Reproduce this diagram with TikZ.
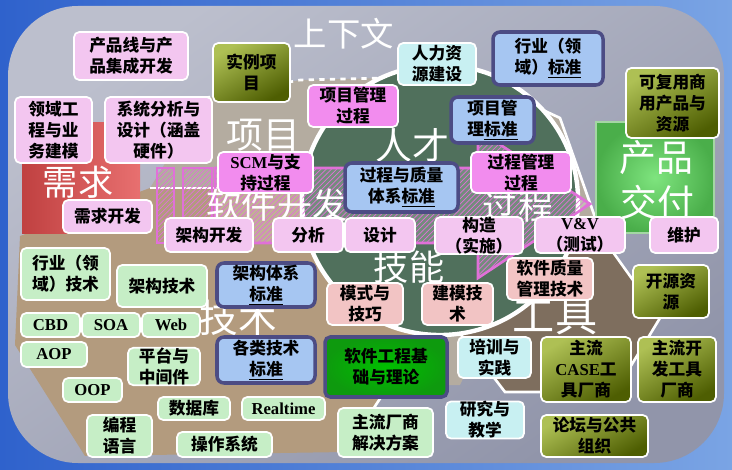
\documentclass[tikz,border=0pt]{standalone}
\usepackage{fontspec}
\setmainfont{Liberation Serif}
\newfontfamily\cjk{Noto Sans CJK SC}
\newfontfamily\lat{Liberation Serif}
\usetikzlibrary{patterns}

\definecolor{framebl}{HTML}{2F62CC}
\definecolor{framelt}{HTML}{7AA4E4}
\definecolor{panel}{HTML}{9195AA}
\definecolor{panellt}{HTML}{BCBFCD}
\definecolor{granite}{HTML}{B4ACA0}
\definecolor{paper}{HTML}{B39B7E}
\definecolor{tooldk}{HTML}{7E6E5E}
\definecolor{marble}{HTML}{50705C}
\definecolor{reqred}{HTML}{E24C4C}
\definecolor{prodgr}{HTML}{4AAE4A}
\definecolor{pinklt}{HTML}{F3C6F0}
\definecolor{pinkdk}{HTML}{F28CEE}
\definecolor{stdblue}{HTML}{A6C6F2}
\definecolor{stdedge}{HTML}{4C4C84}
\definecolor{greenlt}{HTML}{C6EEC6}
\definecolor{cyanlt}{HTML}{C8F0F2}
\definecolor{salmon}{HTML}{F2C4C4}
\definecolor{oliveD}{HTML}{4E5E02}
\definecolor{oliveL}{HTML}{AEC054}
\definecolor{basegr}{HTML}{0E9A0E}
\definecolor{arrowpk}{HTML}{E070D8}

\tikzset{
  box/.style={rounded corners=3pt, draw=white, line width=1pt, align=center,
    inner sep=0pt, text=black, font=\cjk\bfseries\fontsize{9.5}{12}\selectfont},
  sz/.style 2 args={minimum width=#1*0.02cm, minimum height=#2*0.02cm},
  pinkbox/.style={box, fill=pinklt},
  magbox/.style={box, fill=pinkdk},
  stdbox/.style={box, fill=stdblue, draw=stdedge, line width=2pt, rounded corners=4pt},
  techbox/.style={box, fill=greenlt},
  cyanbox/.style={box, fill=cyanlt},
  skillbox/.style={box, fill=salmon},
  olivebox/.style={box, top color=oliveL, bottom color=oliveD, shading angle=30},
  basebox/.style={box, inner color=green!75!black, outer color=basegr, draw=stdedge, line width=2pt},
  bigword/.style={text=white, inner sep=0pt, font=\cjk\fontsize{#1}{#1}\selectfont},
  edge/.style={white, line width=1.5pt},
}

\begin{document}
\begin{tikzpicture}[x=0.02cm, y=-0.02cm]
  \useasboundingbox (0,0) rectangle (732,469);

  % frame and panel
  \shade[left color=framebl, right color=framelt] (0,0) rectangle (732,469);
  \shade[top color=panellt, bottom color=panel, shading angle=35, rounded corners=1.4cm]
    (8,6) rectangle (724,463);

  % regions behind
  \fill[granite] (150,188) -- (205,98) -- (300,80) -- (470,76) -- (560,118)
    -- (603,240) -- (500,300) -- (460,385) -- (400,385) -- (340,300) -- cycle;
  \draw[edge, dashed] (205,98) -- (300,80) -- (470,76);
  \draw[edge] (470,76) -- (560,118) -- (603,240);
  \fill[paper] (20,236) -- (150,188) -- (300,188) -- (425,330) -- (345,452)
    -- (85,456) -- (15,345) -- cycle;
  \draw[edge] (150,188) -- (300,188);
  \draw[edge] (425,330) -- (345,452);
  \fill[tooldk] (475,262) -- (610,248) -- (660,318) -- (615,392) -- (505,392)
    -- (455,327) -- cycle;
  \draw[edge] (610,248) -- (660,318) -- (615,392) -- (505,392) -- (455,327);
  \fill[marble] (440,200) ellipse [x radius=138, y radius=135];
  \draw[white, line width=2.5pt] (440,200) ellipse [x radius=138, y radius=135];

  % requirement and delivery blocks
  \shade[left color=reqred!85!black, right color=reqred!80!white] (22,123) rectangle (140,233);
  \shade[inner color=green!45!prodgr!60!white, outer color=prodgr] (596,122) rectangle (714,233);
  \draw[prodgr!50!white, line width=1pt] (596,122) rectangle (714,233);

  % process arrow
  \fill[white, opacity=0.2] (215,168) -- (478,168) -- (478,130) -- (590,204) -- (478,278)
    -- (478,243) -- (215,243) -- cycle;
  \fill[pattern=north east lines, pattern color=arrowpk] (215,168) -- (478,168) -- (478,130)
    -- (590,204) -- (478,278) -- (478,243) -- (215,243) -- cycle;
  \draw[arrowpk, line width=1.5pt] (215,168) -- (478,168) -- (478,130) -- (590,204)
    -- (478,278) -- (478,243) -- (215,243) -- cycle;
  \draw[arrowpk, line width=1.5pt, pattern=north east lines, pattern color=arrowpk]
    (157,168) rectangle (174,243);
  \draw[arrowpk, line width=1.5pt, pattern=north east lines, pattern color=arrowpk]
    (183,168) rectangle (212,243);

  % large labels
  \node[bigword=19] (ctx) at (344,34) {上下文};
  \node[bigword=21] (proj) at (263,135) {项目};
  \node[bigword=21] (talent) at (412,145) {人才};
  \node[bigword=20] (skill) at (409,267) {技能};
  \node[bigword=22] (tech) at (238,318) {技术};
  \node[bigword=24] (tool) at (555,317) {工具};
  \node[bigword=20] (req) at (78,182) {需求};
  \node[bigword=21] (prod) at (656,158) {产品};
  \node[bigword=21] (deliv) at (657,202) {交付};
  \node[bigword=20] (swdev) at (277,205) {软件开发};
  \node[bigword=20] (proc) at (518,206) {过程};

  % top
  \node[pinkbox, sz={114}{48}] (pline) at (131,56) {产品线与产\\品集成开发};
  \node[olivebox, sz={77}{59}] (sample) at (251.5,72.5) {实例项\\目};
  \node[pinkbox, sz={77}{66}] (domeng) at (53.5,130) {领域工\\程与业\\务建模};
  \node[pinkbox, sz={107}{66}] (sysana) at (158.5,130) {系统分析与\\设计（涵盖\\硬件）};
  \node[pinkbox, sz={89}{33}] (reqdev) at (107.5,216.5) {需求开发};
  \node[magbox, sz={95}{41}] (scm) at (265.5,172.5) {{\lat SCM}与支\\持过程};
  \node[magbox, sz={90}{42}] (pmproc) at (353,106) {项目管理\\过程};
  \node[cyanbox, sz={78}{42}] (hr) at (437,64) {人力资\\源建设};
  \node[stdbox, sz={110}{53}] (domstd) at (548,58.5) {行业（领\\域）\underline{标准}};
  \node[olivebox, sz={93}{70}] (reuse) at (672.5,103) {可复用商\\用产品与\\资源};
  \node[stdbox, sz={83}{46}] (pmstd) at (492.5,120) {项目管\\理\underline{标准}};
  \node[magbox, sz={100}{41}] (procmg) at (521,172.5) {过程管理\\过程};
  \node[stdbox, sz={113}{49}] (qstd) at (401.5,187.5) {过程与质量\\体系\underline{标准}};

  % process row
  \node[pinkbox, sz={88}{34}] (archdev) at (209,235) {架构开发};
  \node[pinkbox, sz={70}{34}] (anal) at (308,235) {分析};
  \node[pinkbox, sz={70}{34}] (design) at (380,235) {设计};
  \node[pinkbox, sz={88}{35}] (build) at (479,235.5) {构造\\（实施）};
  \node[pinkbox, sz={90}{36}] (vv) at (580,235) {{\lat V\&V}\\（测试）};
  \node[pinkbox, sz={68}{36}] (maint) at (684,235) {维护};

  % technology
  \node[techbox, sz={89}{52}] (domtech) at (65.5,274) {行业（领\\域）技术};
  \node[techbox, sz={90}{42}] (archtech) at (162,286) {架构技术};
  \node[stdbox, sz={98}{44}] (archstd) at (266,285) {架构体系\\\underline{标准}};
  \node[techbox, sz={59}{24}] (cbd) at (50.5,325) {\lat CBD};
  \node[techbox, sz={58}{24}] (soa) at (111,325) {\lat SOA};
  \node[techbox, sz={58}{24}] (web) at (171,325) {\lat Web};
  \node[techbox, sz={66}{25}] (aop) at (54,354.5) {\lat AOP};
  \node[techbox, sz={72}{37}] (platform) at (164,366.5) {平台与\\中间件};
  \node[stdbox, sz={98}{46}] (techstd) at (266,360) {各类技术\\\underline{标准}};
  \node[techbox, sz={59}{24}] (oop) at (92.5,390) {\lat OOP};
  \node[techbox, sz={72}{23}] (db) at (194,408.5) {数据库};
  \node[techbox, sz={83}{23}] (rt) at (283.5,408.5) {\lat Realtime};
  \node[techbox, sz={65}{42}] (lang) at (119.5,436) {编程\\语言};
  \node[techbox, sz={95}{25}] (os) at (224.5,444.5) {操作系统};
  \node[techbox, sz={95}{49}] (vendor) at (385.5,432.5) {主流厂商\\解决方案};

  % skills and tools
  \node[basebox, sz={122}{60}] (base) at (386,367) {软件工程基\\础与理论};
  \node[skillbox, sz={76}{42}] (patt) at (365,304) {模式与\\技巧};
  \node[skillbox, sz={71}{42}] (modeling) at (457.5,304) {建模技\\术};
  \node[skillbox, sz={86}{42}] (sqm) at (550,279) {软件质量\\管理技术};
  \node[olivebox, sz={76}{53}] (oss) at (671,291.5) {开源资\\源};
  \node[cyanbox, sz={73}{41}] (train) at (494.5,357.5) {培训与\\实践};
  \node[olivebox, sz={90}{65}] (casev) at (586,369.5) {主流\\{\lat CASE}工\\具厂商};
  \node[olivebox, sz={78}{65}] (devtool) at (677,369.5) {主流开\\发工具\\厂商};
  \node[cyanbox, sz={78}{36}] (research) at (485,420) {研究与\\教学};
  \node[olivebox, sz={107}{42}] (forum) at (594.5,436) {论坛与公共\\组织};
\end{tikzpicture}
\end{document}
